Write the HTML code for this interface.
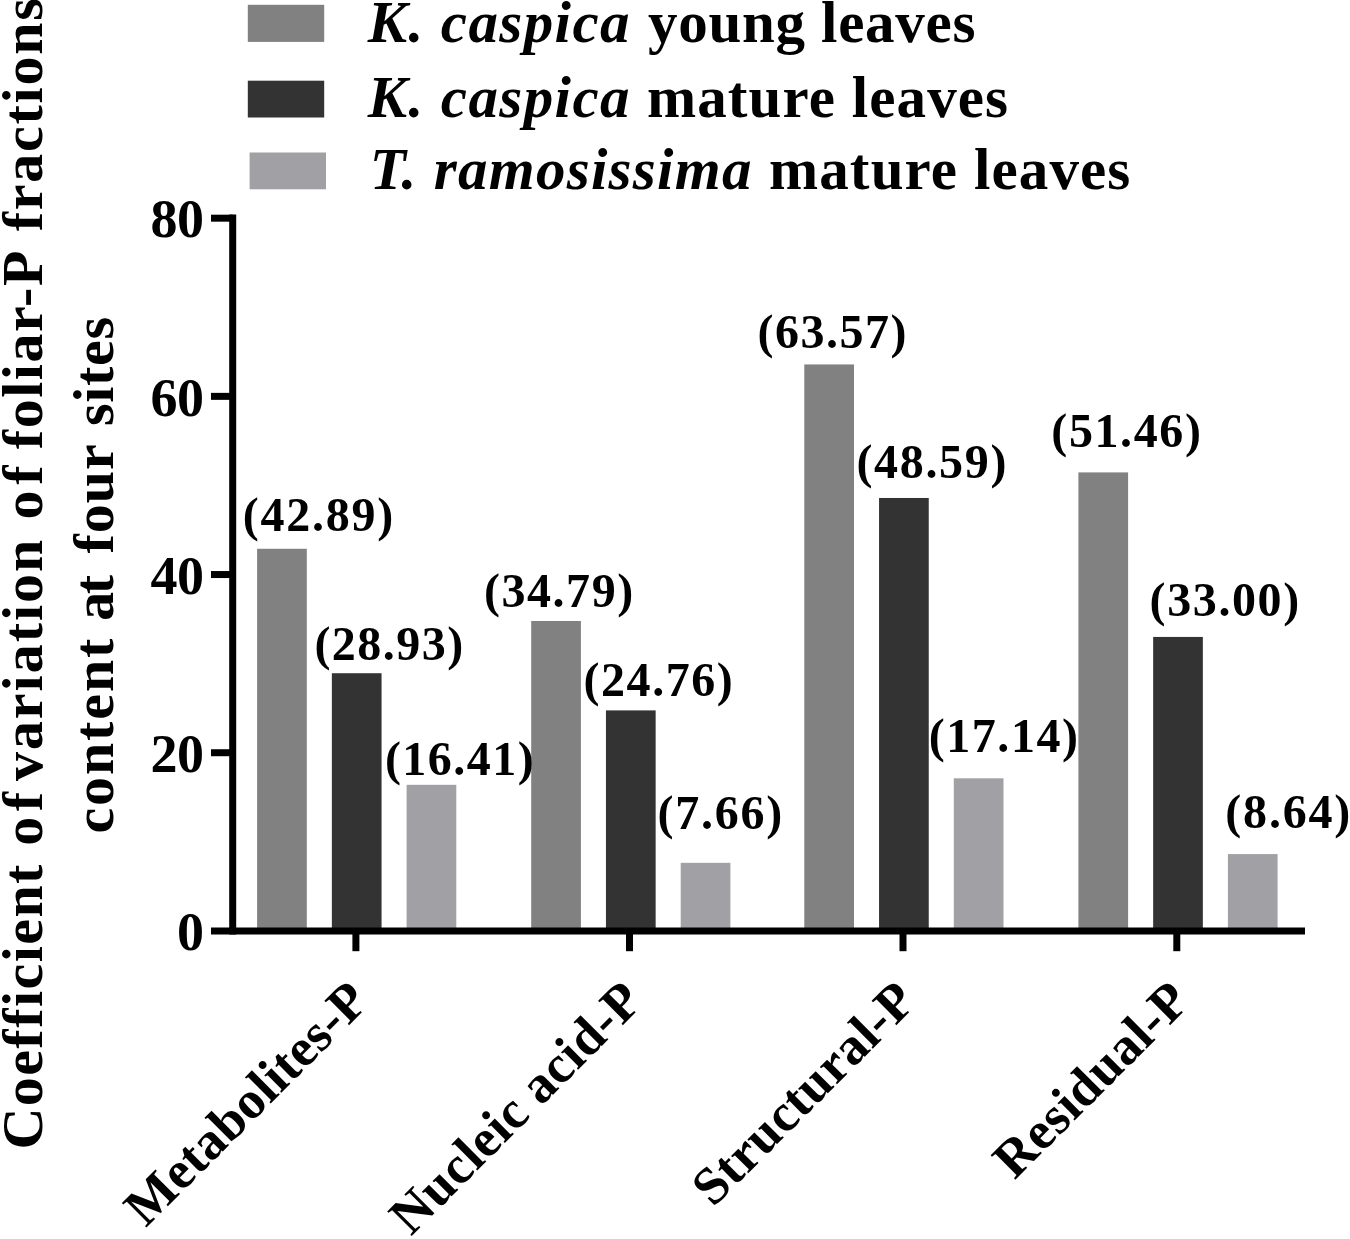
<!DOCTYPE html>
<html lang="en">
<head>
<meta charset="utf-8">
<title>Coefficient of variation of foliar-P fractions content at four sites</title>
<style>
html,body{margin:0;padding:0;background:#fff;}
body{width:1350px;height:1239px;overflow:hidden;}
svg{display:block;}
svg text{font-family:"Liberation Serif","Times New Roman",Times,serif;font-weight:bold;fill:#000;font-variant-ligatures:none;}
.it{font-style:italic;}
</style>
</head>
<body>
<svg width="1350" height="1239" viewBox="0 0 1350 1239" role="img" aria-label="Bar chart: coefficient of variation of foliar-P fractions content at four sites">
<rect x="0" y="0" width="1350" height="1239" fill="#ffffff"/>
<g id="legend-swatches">
<rect x="247.8" y="4.8" width="76.4" height="37.1" fill="#818181"/>
<rect x="247.8" y="80.7" width="76.4" height="36.8" fill="#333333"/>
<rect x="249.6" y="152.5" width="76.4" height="36.8" fill="#a1a1a5"/>
</g>
<g id="legend-text">
<text y="41.70" font-size="59"><tspan class="it" x="367.70" letter-spacing="1.412">K. caspica</tspan> <tspan x="648.00" letter-spacing="0.704">young leaves</tspan></text>
<text y="116.90" font-size="59"><tspan class="it" x="367.70" letter-spacing="1.412">K. caspica</tspan> <tspan x="647.00" letter-spacing="1.096">mature leaves</tspan></text>
<text y="189.00" font-size="59"><tspan class="it" x="369.70" letter-spacing="1.289">T. ramosissima</tspan> <tspan x="769.00" letter-spacing="1.113">mature leaves</tspan></text>
</g>
<g id="ylabel">
<text transform="translate(41.8 0) rotate(-90)" y="0" font-size="58"><tspan x="-1149.60" letter-spacing="1.446">Coefficient</tspan> <tspan x="-845.70" letter-spacing="5.499">of</tspan> <tspan x="-781.10" letter-spacing="1.976">variation</tspan> <tspan x="-519.60" letter-spacing="5.799">of</tspan> <tspan x="-449.20" letter-spacing="1.521">foliar-P</tspan> <tspan x="-231.30" letter-spacing="1.751">fractions</tspan></text>
<text transform="translate(112.5 0) rotate(-90)" y="0" font-size="58"><tspan x="-833.60" letter-spacing="1.897">content</tspan> <tspan x="-620.70" letter-spacing="-2.601">at</tspan> <tspan x="-553.50" letter-spacing="0.942">four</tspan> <tspan x="-426.00" letter-spacing="0.688">sites</tspan></text>
</g>
<g id="bars">
<rect x="257.10" y="548.78" width="49.7" height="382.12" fill="#818181"/>
<rect x="331.85" y="673.22" width="49.7" height="257.68" fill="#333333"/>
<rect x="406.60" y="784.82" width="49.7" height="146.08" fill="#a1a1a5"/>
<rect x="531.20" y="620.98" width="49.7" height="309.92" fill="#818181"/>
<rect x="605.95" y="710.39" width="49.7" height="220.51" fill="#333333"/>
<rect x="680.70" y="862.82" width="49.7" height="68.08" fill="#a1a1a5"/>
<rect x="804.30" y="364.44" width="49.7" height="566.46" fill="#818181"/>
<rect x="879.05" y="497.97" width="49.7" height="432.93" fill="#333333"/>
<rect x="953.80" y="778.31" width="49.7" height="152.59" fill="#a1a1a5"/>
<rect x="1078.40" y="472.39" width="49.7" height="458.51" fill="#818181"/>
<rect x="1153.15" y="636.94" width="49.7" height="293.96" fill="#333333"/>
<rect x="1227.90" y="854.08" width="49.7" height="76.82" fill="#a1a1a5"/>
</g>
<g id="axes" stroke="#000" stroke-width="7.0" fill="none">
<line x1="232.7" y1="214.4" x2="232.7" y2="934.40"/>
<line x1="211" y1="930.9" x2="1305" y2="930.9"/>
<line x1="211" y1="752.72" x2="232.7" y2="752.72"/>
<line x1="211" y1="574.54" x2="232.7" y2="574.54"/>
<line x1="211" y1="396.36" x2="232.7" y2="396.36"/>
<line x1="211" y1="218.18" x2="232.7" y2="218.18"/>
<line x1="355.9" y1="930.9" x2="355.9" y2="951.2"/>
<line x1="629.5" y1="930.9" x2="629.5" y2="951.2"/>
<line x1="903.0" y1="930.9" x2="903.0" y2="951.2"/>
<line x1="1176.8" y1="930.9" x2="1176.8" y2="951.2"/>
</g>
<g id="yticks">
<text x="177.00" y="950.10" font-size="54" letter-spacing="-0.500">0</text>
<text x="150.50" y="771.92" font-size="54" letter-spacing="-0.500">20</text>
<text x="150.50" y="593.74" font-size="54" letter-spacing="-0.500">40</text>
<text x="150.50" y="415.56" font-size="54" letter-spacing="-0.500">60</text>
<text x="150.50" y="237.38" font-size="54" letter-spacing="-0.500">80</text>
</g>
<g id="values">
<text x="242.70" y="530.80" font-size="48" letter-spacing="1.768">(42.89)</text>
<text x="314.40" y="660.00" font-size="48" letter-spacing="1.468">(28.93)</text>
<text x="384.90" y="775.40" font-size="48" letter-spacing="1.468">(16.41)</text>
<text x="483.90" y="606.60" font-size="48" letter-spacing="1.552">(34.79)</text>
<text x="583.60" y="695.50" font-size="48" letter-spacing="1.518">(24.76)</text>
<text x="657.40" y="828.60" font-size="48" letter-spacing="1.782">(7.66)</text>
<text x="757.60" y="347.90" font-size="48" letter-spacing="1.485">(63.57)</text>
<text x="856.40" y="477.60" font-size="48" letter-spacing="1.685">(48.59)</text>
<text x="928.70" y="752.30" font-size="48" letter-spacing="1.552">(17.14)</text>
<text x="1051.30" y="446.60" font-size="48" letter-spacing="1.602">(51.46)</text>
<text x="1149.60" y="616.10" font-size="48" letter-spacing="1.602">(33.00)</text>
<text x="1225.30" y="828.30" font-size="48" letter-spacing="1.802">(8.64)</text>
</g>
<g id="xlabels">
<text transform="translate(370.20 1004.00) rotate(-45)" x="-317.30" y="0" font-size="53" letter-spacing="0.310">Metabolites-P</text>
<text transform="translate(643.80 1004.00) rotate(-45)" x="-329.20" y="0" font-size="53" letter-spacing="0.407">Nucleic acid-P</text>
<text transform="translate(917.30 1004.00) rotate(-45)" x="-288.58" y="0" font-size="53" letter-spacing="0.400">Structural-P</text>
<text transform="translate(1191.10 1004.00) rotate(-45)" x="-249.59" y="0" font-size="53" letter-spacing="0.400">Residual-P</text>
</g>
</svg>
</body>
</html>
